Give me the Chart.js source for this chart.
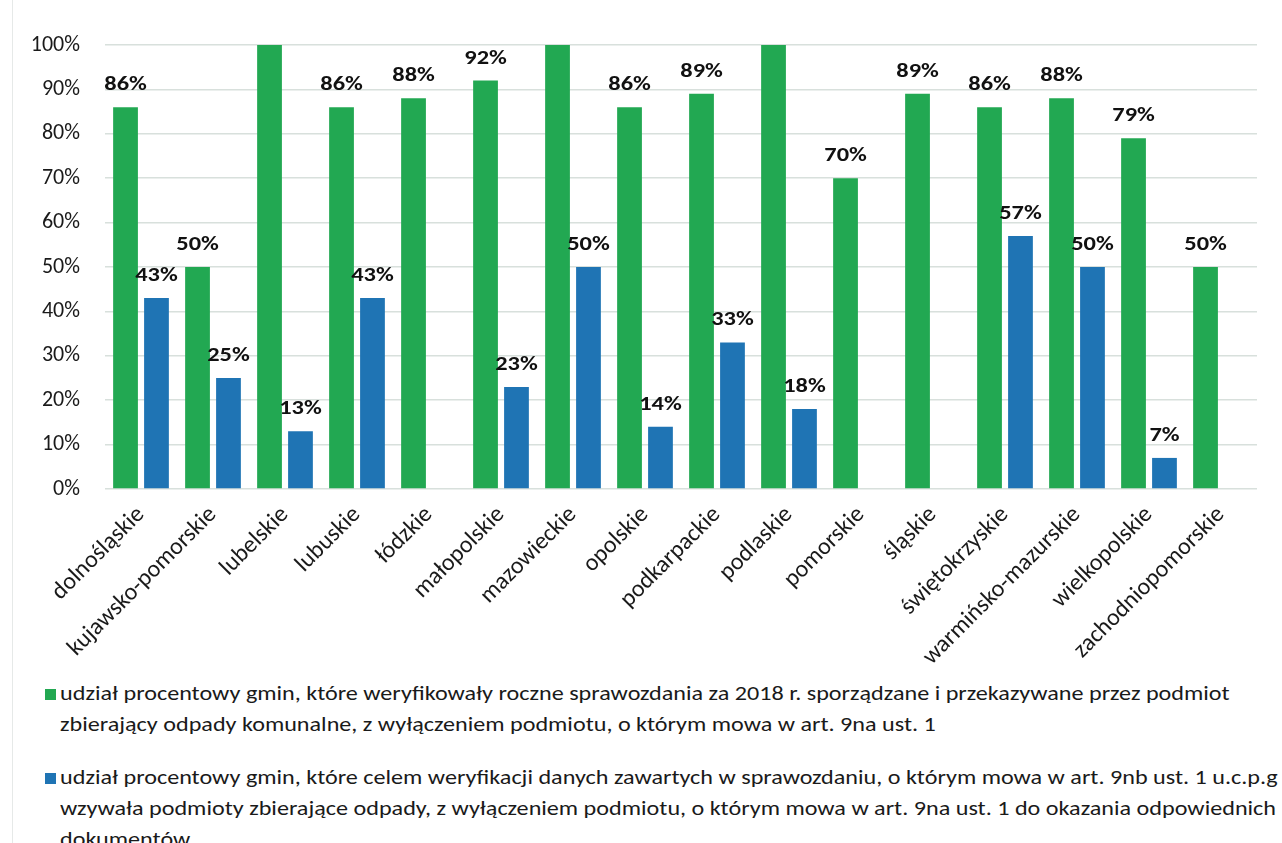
<!DOCTYPE html>
<html><head><meta charset="utf-8">
<script src="https://cdn.jsdelivr.net/npm/chart.js@4.4.1/dist/chart.umd.min.js"></script>
<style>
html,body{margin:0;padding:0;background:#fff;width:1282px;height:843px;overflow:hidden;position:relative;font-family:Carlito,Lato,"Open Sans",sans-serif;color:#1a1a1a}
#wrap{position:absolute;left:0;top:0;width:1282px;height:670px}
.leg{position:absolute;left:60px;font-size:21px;line-height:31px;white-space:nowrap;transform:scaleX(1.15);transform-origin:0 0}
.sq{position:absolute;width:11px;height:11px}
#edge{position:absolute;left:12px;top:0;width:1px;height:843px;background:#e6e9e8}
</style></head><body>
<div id="edge"></div>
<div id="wrap"><canvas id="c" width="1282" height="670"></canvas></div>
<div class="sq" style="left:45px;top:689px;background:#22a852"></div>
<div class="leg" id="l1" style="top:678px">udział procentowy gmin, które weryfikowały roczne sprawozdania za 2018 r. sporządzane i przekazywane przez podmiot<br>zbierający odpady komunalne, z wyłączeniem podmiotu, o którym mowa w art. 9na ust. 1</div>
<div class="sq" style="left:45px;top:773px;background:#1f74b4"></div>
<div class="leg" id="l2" style="top:762px">udział procentowy gmin, które celem weryfikacji danych zawartych w sprawozdaniu, o którym mowa w art. 9nb ust. 1 u.c.p.g<br>wzywała podmioty zbierające odpady, z wyłączeniem podmiotu, o którym mowa w art. 9na ust. 1 do okazania odpowiednich<br>dokumentów</div>
<script>
const categories = ["dolnośląskie","kujawsko-pomorskie","lubelskie","lubuskie","łódzkie","małopolskie","mazowieckie","opolskie","podkarpackie","podlaskie","pomorskie","śląskie","świętokrzyskie","warmińsko-mazurskie","wielkopolskie","zachodniopomorskie"];
const greenValues = [86,50,100,86,88,92,100,86,89,100,70,89,86,88,79,50];
const blueValues  = [43,25,13,43,0,23,50,14,33,18,0,0,57,50,7,0];
const yTicks = [0,10,20,30,40,50,60,70,80,90,100];
const FONT = 'Carlito, Lato, "Open Sans", sans-serif';

const labelPlugin = {
  id:'vals',
  afterDatasetsDraw(chart){
    const ctx = chart.ctx;
    chart.data.datasets.forEach((ds,di)=>{
      const meta = chart.getDatasetMeta(di);
      meta.data.forEach((el,i)=>{
        const v = ds.data[i];
        if (!v || v >= 100) return;
        ctx.save();
        ctx.font = '900 20px ' + FONT;
        ctx.fillStyle = '#111';
        ctx.textAlign = 'center';
        ctx.textBaseline = 'alphabetic';
        ctx.translate(el.x, el.y - 17);
        ctx.scale(1.22, 1);
        ctx.fillText(v + '%', 0, 0);
        ctx.restore();
      });
    });
  }
};

new Chart(document.getElementById('c'), {
  type:'bar',
  data:{
    labels: categories,
    datasets:[
      {label:'g', data: greenValues, backgroundColor:'#22a852', categoryPercentage:0.86, barPercentage:0.8},
      {label:'b', data: blueValues, backgroundColor:'#1f74b4', categoryPercentage:0.86, barPercentage:0.8}
    ]
  },
  options:{
    responsive:false, animation:false,
    layout:{padding:{left:0,right:25,top:45,bottom:0}},
    plugins:{legend:{display:false}, tooltip:{enabled:false}},
    scales:{
      x:{
        grid:{display:false}, border:{display:false},
        ticks:{color:'#1a1a1a', font:{family:FONT,size:24}, maxRotation:45, minRotation:45, autoSkip:false, padding:4},
        afterFit(s){ s.height = 181; }
      },
      y:{
        min:0, max:100,
        afterBuildTicks(s){ s.ticks = yTicks.map(v=>({value:v})); },
        grid:{color:'#d8e0dc', lineWidth:1.5, drawTicks:false},
        border:{display:false},
        ticks:{color:'#1a1a1a', font:{family:FONT,size:22}, padding:25, callback:v=>v+'%'},
        afterFit(s){ s.width = 105; }
      }
    }
  },
  plugins:[labelPlugin]
});
</script>
</body></html>
